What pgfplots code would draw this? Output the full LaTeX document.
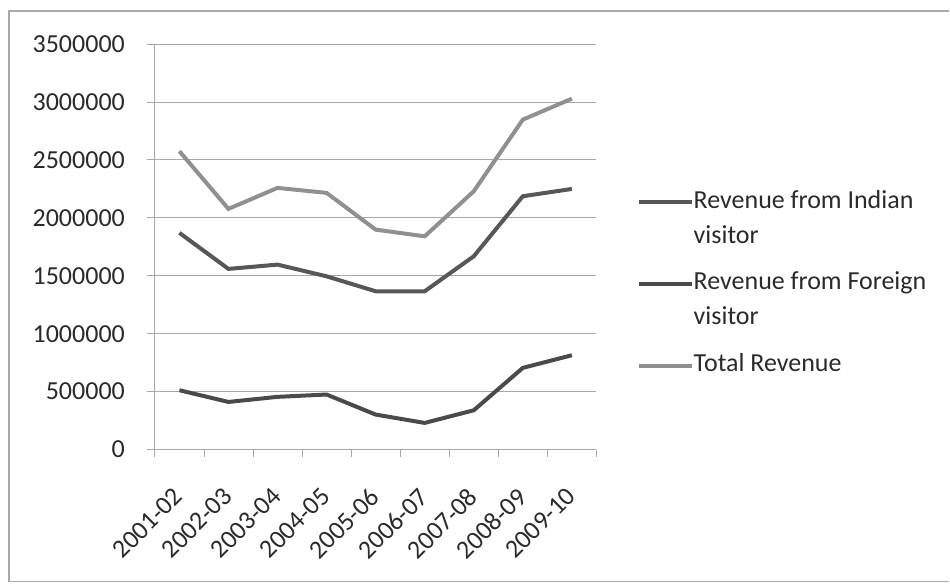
\documentclass[border=0pt]{standalone}
\usepackage{fontspec}
\setmainfont{Carlito}
\usepackage{pgfplots}
\pgfplotsset{compat=1.18}
\definecolor{cIndian}{HTML}{575757}
\definecolor{cForeign}{HTML}{4A4A4A}
\definecolor{cTotal}{HTML}{909090}
\definecolor{cGrid}{HTML}{A8A8A8}
\definecolor{cText}{HTML}{2A2A2A}
\begin{document}
\begin{tikzpicture}
\begin{axis}[
  at={(0,0)}, anchor=south west,
  scale only axis,
  width=221pt, height=203pt,
  xmin=0.5, xmax=9.5,
  ymin=0, ymax=3500000,
  xtick={1,...,9},
  xticklabels={2001-02,2002-03,2003-04,2004-05,2005-06,2006-07,2007-08,2008-09,2009-10},
  minor xtick={0.5,1.5,...,9.5},
  ytick={0,500000,...,3500000},
  scaled y ticks=false,
  yticklabel style={/pgf/number format/fixed,/pgf/number format/1000 sep={}},
  /pgf/number format/assume math mode=true,
  tick label style={font=\fontsize{13}{15}\selectfont, text=cText},
  xticklabel style={rotate=45, anchor=north east, inner sep=1pt, xshift=-11.5pt, yshift=-6.5pt},
  yticklabel style={xshift=-7.5pt},
  major x tick style={draw=none},
  minor x tick style={draw=cGrid, thin},
  minor tick length=3.5pt,
  major tick length=4pt,
  tick align=outside,
  y tick style={draw=cGrid, thin},
  ymajorgrids,
  major grid style={draw=cGrid, thin},
  axis x line*=bottom,
  axis y line*=left,
  axis line style={draw=cGrid, thin, -},
  clip=false,
  legend style={
    at={(axis cs:9.5,2200000)}, anchor=north west,
    xshift=20pt, yshift=2.5pt,
    draw=none, fill=none,
    inner sep=0pt,
    row sep=30.5pt,
    font=\fontsize{13}{17.5}\selectfont,
    text=cText,
    nodes={inner sep=0pt, anchor=base west},
  },
  legend cell align=left,
  legend image code/.code={\draw[#1] (0pt,0.3em) -- (26.5pt,0.3em);},
]
\addplot[cIndian, line width=2pt] coordinates {
(1,1870000) (2,1559000) (3,1596000) (4,1495000) (5,1366000) (6,1366000) (7,1668000) (8,2186000) (9,2249000)};
\addlegendentry{\parbox[t]{120pt}{\raggedright Revenue from Indian\\visitor}}
\addplot[cForeign, line width=2pt] coordinates {
(1,512000) (2,411000) (3,455000) (4,475000) (5,302000) (6,230000) (7,339000) (8,705000) (9,814000)};
\addlegendentry{\parbox[t]{120pt}{\raggedright Revenue from Foreign\\visitor}}
\addplot[cTotal, line width=2pt] coordinates {
(1,2575000) (2,2077000) (3,2258000) (4,2215000) (5,1898000) (6,1840000) (7,2229000) (8,2847000) (9,3028000)};
\addlegendentry{Total Revenue}
\end{axis}
% frame (scan border) and page extent
\path (-77.5pt,-68.5pt) rectangle (397.5pt,225pt);
\draw[color=cGrid, line width=0.9pt] (397.5pt,219.5pt) -- (-73pt,219.5pt) -- (-73pt,-66pt) -- (397.5pt,-66pt);
\end{tikzpicture}
\end{document}
